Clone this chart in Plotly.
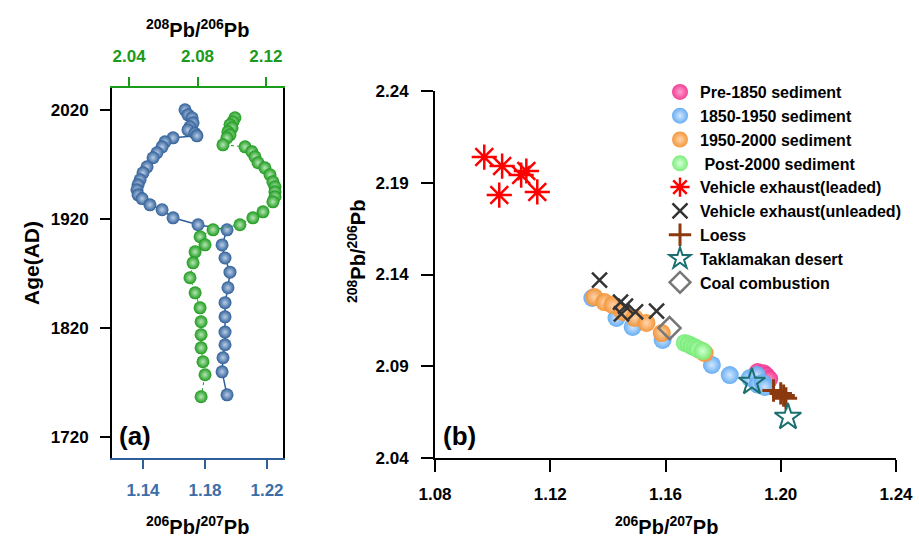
import plotly.graph_objects as go

# ---------------- Panel (a) data ----------------
blue_age = [2020.0, 2015.4, 2012.7, 2008.0, 2004.4, 2001.5, 1998.5, 1996.1, 1994.3, 1990.6,
            1986.0, 1980.6, 1976.0, 1967.7, 1962.2, 1955.8, 1951.2, 1946.6, 1942.0, 1938.5,
            1932.8, 1928.3, 1920.9, 1914.5, 1909.9, 1896.0, 1884.0, 1871.0, 1856.7, 1843.0,
            1830.0, 1816.0, 1804.4, 1792.5, 1779.6, 1758.5]
blue_r67 = [1.1671, 1.1690, 1.1716, 1.1723, 1.1703, 1.1690, 1.1735, 1.1748, 1.1594, 1.1542,
            1.1523, 1.1490, 1.1465, 1.1426, 1.1400, 1.1381, 1.1368, 1.1361, 1.1368, 1.1394,
            1.1445, 1.1523, 1.1594, 1.1755, 1.1942, 1.1910, 1.1929, 1.1961, 1.1948, 1.1929,
            1.1929, 1.1929, 1.1929, 1.1916, 1.1910, 1.1942]

green_age = [2012.7, 2009.0, 2006.2, 2003.5, 1999.8, 1997.0, 1994.3, 1987.9, 1986.0, 1981.5,
             1976.9, 1971.4, 1966.8, 1960.4, 1953.9, 1949.4, 1944.8, 1940.2, 1935.6, 1926.4,
             1920.9, 1914.5, 1909.9, 1903.5, 1896.1, 1889.7, 1879.6, 1865.9, 1852.1, 1838.3,
             1825.5, 1813.6, 1801.6, 1788.8, 1776.9, 1756.7]
green_r86 = [2.1019, 2.1007, 2.0990, 2.1002, 2.0978, 2.0990, 2.0972, 2.0949, 2.1078, 2.1118,
             2.1136, 2.1154, 2.1194, 2.1224, 2.1241, 2.1253, 2.1253, 2.1253, 2.1241, 2.1183,
             2.1124, 2.1048, 2.0891, 2.0815, 2.0844, 2.0786, 2.0774, 2.0756, 2.0786, 2.0815,
             2.0821, 2.0821, 2.0821, 2.0832, 2.0844, 2.0821]

# ---------------- Panel (b) data ----------------
pre1850_x = [1.1920, 1.1940, 1.1950, 1.1960]
pre1850_y = [2.0868, 2.0862, 2.0848, 2.0830]

s1850_x = [1.1346, 1.1430, 1.1486, 1.1590, 1.1761, 1.1823, 1.1893, 1.1917, 1.1920, 1.1938, 1.1945]
s1850_y = [2.1272, 2.1163, 2.1114, 2.1043, 2.0907, 2.0852, 2.0836, 2.0852, 2.0800, 2.0809, 2.0787]

s1950_x = [1.1353, 1.1388, 1.1416, 1.1451, 1.1493, 1.1534, 1.1587, 1.1719, 1.1736]
s1950_y = [2.1277, 2.1250, 2.1234, 2.1196, 2.1163, 2.1136, 2.1081, 2.0989, 2.0972]

post2000_x = [1.1667, 1.1680, 1.1691, 1.1702, 1.1712, 1.1729]
post2000_y = [2.1027, 2.1020, 2.1010, 2.1003, 2.0994, 2.0983]

leaded_x = [1.0971, 1.1033, 1.1117, 1.1099, 1.1023, 1.1155]
leaded_y = [2.2040, 2.1991, 2.1964, 2.1942, 2.1833, 2.1850]

unleaded_x = [1.1371, 1.1444, 1.1461, 1.1447, 1.1496, 1.1569]
unleaded_y = [2.1370, 2.1250, 2.1228, 2.1185, 2.1196, 2.1201]

loess_x = [1.1975, 1.2000, 1.2010, 1.2018]
loess_y = [2.0768, 2.0752, 2.0740, 2.0725]

takla_x = [1.1900, 1.2025]
takla_y = [2.0814, 2.0623]

coal_x = [1.1614]
coal_y = [2.1108]

BLUE = "#2f5f98"
GREEN = "#1b9a1b"
FONT = "Arial, Liberation Sans, sans-serif"

fig = go.Figure()

# Panel (a)
fig.add_trace(go.Scatter(
    x=blue_r67, y=blue_age, xaxis="x", yaxis="y", mode="lines+markers",
    line=dict(color=BLUE, width=1.5),
    marker=dict(size=13, color=BLUE, gradient=dict(type="radial", color="#b9cde6"),
                line=dict(width=0)),
    showlegend=False))
fig.add_trace(go.Scatter(
    x=green_r86, y=green_age, xaxis="x2", yaxis="y", mode="lines+markers",
    line=dict(color=GREEN, width=1, dash="dot"),
    marker=dict(size=13, color=GREEN, gradient=dict(type="radial", color="#b6e6b6"),
                line=dict(width=0)),
    showlegend=False))

# Panel (b)
def sed(x, y, name, col, hl):
    return go.Scatter(x=x, y=y, xaxis="x3", yaxis="y3", mode="markers", name=name,
                      marker=dict(size=18, color=col, opacity=0.95,
                                  gradient=dict(type="radial", color=hl), line=dict(width=0)))

fig.add_trace(sed(pre1850_x, pre1850_y, "Pre-1850 sediment", "#f0368f", "#ff9ccb"))
fig.add_trace(sed(s1850_x, s1850_y, "1850-1950 sediment", "#5fa9f2", "#cfe6ff"))
fig.add_trace(sed(s1950_x, s1950_y, "1950-2000 sediment", "#f39233", "#ffd3a8"))
fig.add_trace(sed(post2000_x, post2000_y, " Post-2000 sediment", "#74ec74", "#d5ffd5"))

fig.add_trace(go.Scatter(x=leaded_x, y=leaded_y, xaxis="x3", yaxis="y3", mode="markers",
                         name="Vehicle exhaust(leaded)",
                         marker=dict(symbol="asterisk-open", size=21, color="#ff0000",
                                     line=dict(color="#ff0000", width=2.5))))
fig.add_trace(go.Scatter(x=unleaded_x, y=unleaded_y, xaxis="x3", yaxis="y3", mode="markers",
                         name="Vehicle exhaust(unleaded)",
                         marker=dict(symbol="x-thin-open", size=15, color="#333333",
                                     line=dict(color="#333333", width=2.5))))
fig.add_trace(go.Scatter(x=loess_x, y=loess_y, xaxis="x3", yaxis="y3", mode="markers",
                         name="Loess",
                         marker=dict(symbol="cross-thin-open", size=16, color="#8b3a0f",
                                     line=dict(color="#8b3a0f", width=3))))
fig.add_trace(go.Scatter(x=takla_x, y=takla_y, xaxis="x3", yaxis="y3", mode="markers",
                         name="Taklamakan desert",
                         marker=dict(symbol="star-open", size=20, color="#1b6f6f",
                                     line=dict(color="#1b6f6f", width=2))))
fig.add_trace(go.Scatter(x=coal_x, y=coal_y, xaxis="x3", yaxis="y3", mode="markers",
                         name="Coal combustion",
                         marker=dict(symbol="diamond-open", size=17, color="#777777",
                                     line=dict(color="#777777", width=2.5))))

W, H = 919, 539
def px(v): return v / W
def py(v): return (H - v) / H

tickfont_b = dict(family=FONT, size=17, color="black", weight="bold")

fig.update_layout(
    width=W, height=H, margin=dict(l=0, r=0, t=0, b=0, autoexpand=False),
    paper_bgcolor="white", plot_bgcolor="rgba(0,0,0,0)",
    font=dict(family=FONT, size=14, color="black"),
    xaxis=dict(domain=[px(112), px(283)], anchor="y", range=[1.12, 1.2303],
               tickvals=[1.14, 1.18, 1.22], ticktext=["1.14", "1.18", "1.22"],
               showline=True, linecolor=BLUE, linewidth=2, ticks="outside", ticklen=9,
               tickwidth=2, tickcolor=BLUE, showgrid=False, zeroline=False,
               ticklabelstandoff=7,
               tickfont=dict(family=FONT, size=17, color="#3b6ea8", weight="bold")),
    xaxis2=dict(overlaying="x", side="top", anchor="y", range=[2.03, 2.13],
                tickvals=[2.04, 2.08, 2.12], ticktext=["2.04", "2.08", "2.12"],
                showline=True, linecolor=GREEN, linewidth=2, ticks="outside", ticklen=9,
                tickwidth=2, tickcolor=GREEN, showgrid=False, zeroline=False,
                ticklabelstandoff=8,
                tickfont=dict(family=FONT, size=17, color=GREEN, weight="bold")),
    yaxis=dict(domain=[py(458), py(88)], anchor="x", range=[1700.5, 2040],
               tickvals=[1720, 1820, 1920, 2020],
               showline=True, linecolor="black", linewidth=2, mirror=True,
               ticks="outside", ticklen=10, tickwidth=2, tickcolor="black",
               ticklabelstandoff=8,
               showgrid=False, zeroline=False, tickfont=tickfont_b),
    xaxis3=dict(domain=[px(435), px(896)], anchor="y3", range=[1.08, 1.24],
                tickvals=[1.08, 1.12, 1.16, 1.20, 1.24],
                ticktext=["1.08", "1.12", "1.16", "1.20", "1.24"],
                showline=True, linecolor="black", linewidth=2, ticks="outside", ticklen=12,
                tickwidth=2, tickcolor="black", showgrid=False, zeroline=False,
                ticklabelstandoff=8,
                tickfont=tickfont_b),
    yaxis3=dict(domain=[py(458), py(91)], anchor="x3", range=[2.04, 2.24],
                tickvals=[2.04, 2.09, 2.14, 2.19, 2.24],
                ticktext=["2.04", "2.09", "2.14", "2.19", "2.24"],
                showline=True, linecolor="black", linewidth=2, ticks="outside", ticklen=12,
                tickwidth=2, tickcolor="black", showgrid=False, zeroline=False,
                ticklabelstandoff=9,
                tickfont=tickfont_b),
    legend=dict(x=px(660), y=py(75), xanchor="left", yanchor="top",
                bgcolor="rgba(0,0,0,0)", borderwidth=0,
                font=dict(family=FONT, size=16, color="black", weight="bold"),
                tracegroupgap=0),
)

ann_font = dict(family=FONT, size=20, color="black", weight="bold")
def ann(x, y, text, angle=0, font=ann_font, xa="center"):
    fig.add_annotation(x=px(x), y=py(y), xref="paper", yref="paper", showarrow=False,
                       xanchor=xa, yanchor="middle", text=text, textangle=angle, font=font)

ann(197, 28, "<sup>208</sup>Pb/<sup>206</sup>Pb")
ann(197, 525, "<sup>206</sup>Pb/<sup>207</sup>Pb")
ann(666, 525, "<sup>206</sup>Pb/<sup>207</sup>Pb")
ann(31, 263, "Age(AD)", angle=-90, font=dict(family=FONT, size=21, color="black", weight="bold"))
ann(356, 252, "<sup>208</sup>Pb/<sup>206</sup>Pb", angle=-90)
ann(117, 436, "(a)", xa="left", font=dict(family=FONT, size=26, color="black", weight="bold"))
ann(441, 436, "(b)", xa="left", font=dict(family=FONT, size=26, color="black", weight="bold"))

fig.write_html("out.html")
